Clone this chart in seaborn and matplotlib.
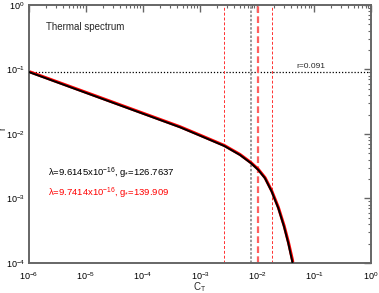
import numpy as np
import pandas as pd
import seaborn as sns
import matplotlib.pyplot as plt
from matplotlib.ticker import LogLocator, NullFormatter

# curves (log10 values)
log_ct_black = [-6.0, -5.0, -4.0, -3.35, -3.0, -2.574, -2.298, -2.105, -1.977,
                -1.86, -1.742, -1.626, -1.526, -1.451, -1.381, -1.37]
log_r_black = [-1.04, -1.363, -1.686, -1.896, -2.026, -2.186, -2.326, -2.454,
               -2.558, -2.687, -2.894, -3.152, -3.437, -3.695, -3.98, -4.05]
log_ct_red = [-6.0, -5.0, -4.0, -3.35, -3.0, -2.574, -2.298, -2.105, -1.977,
              -1.86, -1.742, -1.626, -1.526, -1.449, -1.377, -1.366]
log_r_red = [-1.032, -1.355, -1.678, -1.888, -2.018, -2.178, -2.318, -2.445,
             -2.549, -2.677, -2.882, -3.138, -3.42, -3.68, -3.96, -4.05]

r_obs = 0.091
ct_red_thin = [0.00267, 0.0181]
ct_gray = 0.00785
ct_red_thick = 0.0104

df_black = pd.DataFrame({'ct': np.power(10.0, log_ct_black), 'r': np.power(10.0, log_r_black)})
df_red = pd.DataFrame({'ct': np.power(10.0, log_ct_red), 'r': np.power(10.0, log_r_red)})

sns.set_style('white')
plt.rcParams['font.family'] = ['Liberation Sans', 'DejaVu Sans']
plt.rcParams['mathtext.default'] = 'regular'

fig, ax = plt.subplots(figsize=(3.79, 2.93), dpi=100)
fig.subplots_adjust(left=0.0765, right=0.979, top=0.983, bottom=0.1024)

ax.set_xscale('log')
ax.set_yscale('log')

# reference lines
ax.axhline(r_obs, color='black', ls=(0, (1, 1.5)), lw=0.9, zorder=1)
for c in ct_red_thin:
    ax.axvline(c, color='#ff3030', ls=(0, (3, 2)), lw=0.7, zorder=1)
ax.axvline(ct_gray, color='#888888', ls=(0, (1.5, 1)), lw=1.2, zorder=1)
ax.axvline(ct_red_thick, color='#ff6060', ls=(0, (3, 1.5)), lw=1.6, zorder=1)

sns.lineplot(data=df_red, x='ct', y='r', color='red', lw=2.2, sort=False, ax=ax, zorder=2)
sns.lineplot(data=df_black, x='ct', y='r', color='black', lw=1.4, sort=False, ax=ax, zorder=3)

ax.set_xlim(1e-6, 1)
ax.set_ylim(1e-4, 1)

ax.text(2.0e-6, 0.456, 'Thermal spectrum', fontsize=7, va='center', ha='left')
ax.text(0.05, 0.097, 'r=0.091', fontsize=6, va='bottom', ha='left')
ax.text(2.16e-6, 2.49e-3, r'λ=9.6145x10$^{-16}$, g$_{*}$=126.7637', fontsize=6.8,
        color='black', va='center', ha='left')
ax.text(2.16e-6, 1.22e-3, r'λ=9.7414x10$^{-16}$, g$_{*}$=139.909', fontsize=6.8,
        color='red', va='center', ha='left')

ax.set_xlabel('C$_T$', fontsize=7, labelpad=-1)
ax.set_ylabel('r', fontsize=7)
ax.yaxis.set_label_coords(-0.062, 0.52)

ax.xaxis.set_major_locator(LogLocator(base=10, numticks=10))
ax.yaxis.set_major_locator(LogLocator(base=10, numticks=10))
ax.xaxis.set_minor_locator(LogLocator(base=10, subs=np.arange(2, 10), numticks=20))
ax.yaxis.set_minor_locator(LogLocator(base=10, subs=np.arange(2, 10), numticks=20))
ax.xaxis.set_minor_formatter(NullFormatter())
ax.yaxis.set_minor_formatter(NullFormatter())

ax.tick_params(which='both', direction='in', top=True, right=True, colors='#666666',
               labelcolor='black', labelsize=6.5)
ax.tick_params(axis='x', which='both', pad=5)
ax.tick_params(axis='y', which='both', pad=3)
ax.tick_params(which='major', length=5, width=1.0)
ax.tick_params(which='minor', length=2.5, width=0.8)
for s in ax.spines.values():
    s.set_color('#666666')
    s.set_linewidth(1.4)

plt.savefig('out.png', dpi=100)
